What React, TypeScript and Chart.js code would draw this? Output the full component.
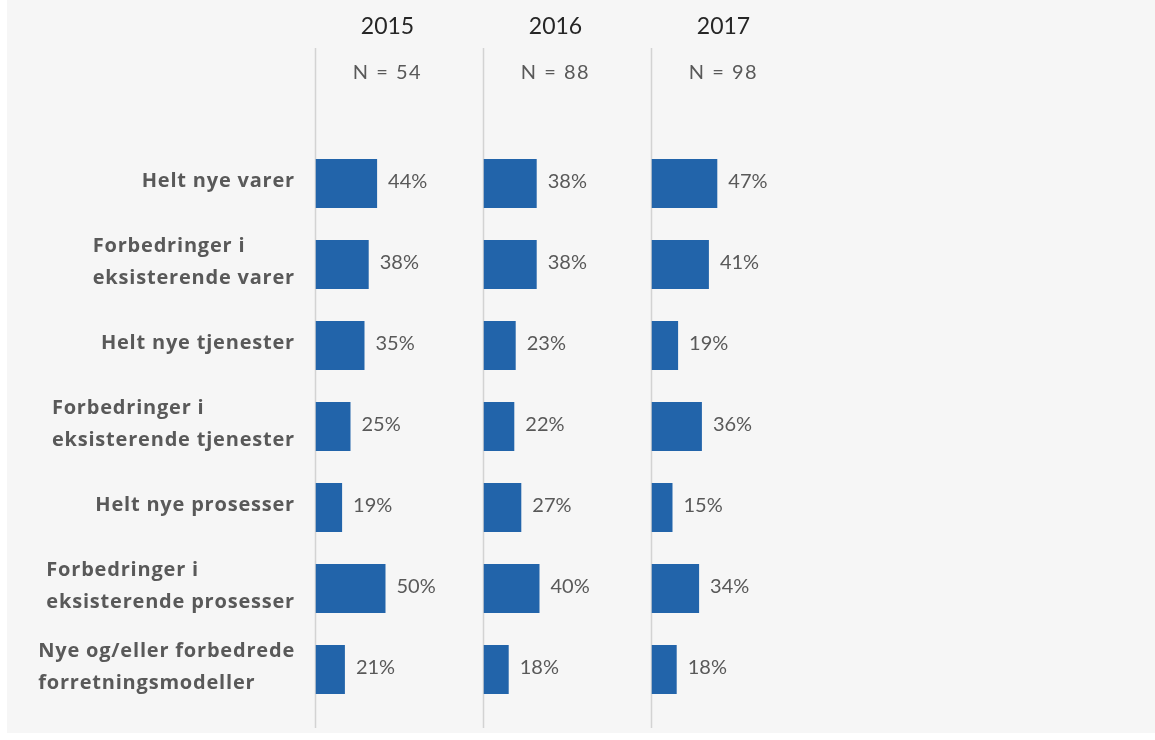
import React, { useEffect, useRef } from "react";
import { Chart, registerables } from "chart.js";

Chart.register(...registerables);

const categories: string[][] = [
  ["Helt nye varer"],
  ["Forbedringer i", "eksisterende varer"],
  ["Helt nye tjenester"],
  ["Forbedringer i", "eksisterende tjenester"],
  ["Helt nye prosesser"],
  ["Forbedringer i", "eksisterende prosesser"],
  ["Nye og/eller forbedrede", "forretningsmodeller"],
];
const years = ["2015", "2016", "2017"];
const sampleSizes = ["N = 54", "N = 88", "N = 98"];
const values2015 = [0.44, 0.38, 0.35, 0.25, 0.19, 0.5, 0.21];
const values2016 = [0.38, 0.38, 0.23, 0.22, 0.27, 0.4, 0.18];
const values2017 = [0.47, 0.41, 0.19, 0.36, 0.15, 0.34, 0.18];
const seriesValues = [values2015, values2016, values2017];

const W = 1155;
const H = 740;
const BAR_COLOR = "#2264aa";
const TEXT_GRAY = "#595959";
const FONT = "Lato, 'Open Sans', sans-serif";
const LABEL_FONT = "'Open Sans', Lato, sans-serif";
const xIds = ["x2015", "x2016", "x2017"];

const overlayPlugin = {
  id: "overlay",
  beforeDatasetsDraw(chart: any) {
    const ctx = chart.ctx;
    ctx.save();
    ctx.strokeStyle = "#d3d3d3";
    ctx.lineWidth = 1.5;
    xIds.forEach((id) => {
      const s = chart.scales[id];
      const x = s.getPixelForValue(0);
      ctx.beginPath();
      ctx.moveTo(x, 48);
      ctx.lineTo(x, 728);
      ctx.stroke();
    });
    ctx.restore();
  },
  afterDatasetsDraw(chart: any) {
    const ctx = chart.ctx;
    const yScale = chart.scales.y;
    ctx.save();
    // headers
    xIds.forEach((id, i) => {
      const s = chart.scales[id];
      const cx = s.left + 72;
      ctx.textAlign = "center";
      ctx.textBaseline = "alphabetic";
      ctx.fillStyle = "#262626";
      ctx.font = `23px ${FONT}`;
      ctx.fillText(years[i], cx, 34);
      ctx.fillStyle = TEXT_GRAY;
      ctx.font = `20px ${FONT}`;
      (ctx as any).letterSpacing = "1.5px";
      ctx.fillText(sampleSizes[i], cx, 79);
      (ctx as any).letterSpacing = "0px";
    });
    // category labels
    ctx.font = `bold 20px ${LABEL_FONT}`;
    (ctx as any).letterSpacing = "0.8px";
    ctx.fillStyle = TEXT_GRAY;
    ctx.textAlign = "left";
    categories.forEach((lines, idx) => {
      const cy = yScale.getPixelForValue(idx);
      const maxW = Math.max(...lines.map((l) => ctx.measureText(l).width));
      const left = 295 - maxW;
      lines.forEach((l, li) => {
        const by = cy + 3.5 + (li - (lines.length - 1) / 2) * 32;
        ctx.fillText(l, left, by);
      });
    });
    (ctx as any).letterSpacing = "0px";
    // value labels
    ctx.font = `20px ${FONT}`;
    chart.data.datasets.forEach((ds: any, di: number) => {
      const meta = chart.getDatasetMeta(di);
      meta.data.forEach((bar: any, j: number) => {
        const v = ds.data[j];
        const txt = Math.round(v * 100) + "%";
        ctx.fillText(txt, bar.x + 11, bar.y + 4);
      });
    });
    ctx.restore();
  },
};

export default function App() {
  const ref = useRef<HTMLCanvasElement | null>(null);

  useEffect(() => {
    if (!ref.current) return;
    const scales: any = {
      y: {
        type: "category",
        display: false,
        offset: true,
        grid: { display: false },
      },
    };
    xIds.forEach((id) => {
      scales[id] = {
        type: "linear",
        position: "bottom",
        stack: "years",
        stackWeight: 1,
        min: 0,
        max: 1.2,
        display: false,
        grid: { display: false },
      };
    });
    const chart = new Chart(ref.current, {
      type: "bar",
      data: {
        labels: categories as any,
        datasets: seriesValues.map((vals, i) => ({
          label: years[i],
          data: vals,
          xAxisID: xIds[i],
          yAxisID: "y",
          backgroundColor: BAR_COLOR,
          borderWidth: 0,
          grouped: false,
          barPercentage: 0.605,
          categoryPercentage: 1,
        })),
      },
      options: {
        indexAxis: "y",
        responsive: false,
        animation: false,
        layout: {
          padding: { left: 315.5, right: W - 315.5 - 504, top: 143, bottom: H - 710 },
        },
        plugins: {
          legend: { display: false },
          tooltip: { enabled: false },
          title: { display: false },
        },
        scales,
      },
      plugins: [overlayPlugin],
    } as any);
    return () => chart.destroy();
  }, []);

  return (
    <div style={{ position: "fixed", left: 0, top: 0, width: W, height: H, background: "#ffffff" }}>
      <div style={{ position: "absolute", left: 7, top: 0, width: W - 7, height: H - 7, background: "#f6f6f6" }} />
      <canvas ref={ref} width={W} height={H} style={{ position: "absolute", left: 0, top: 0, width: W, height: H }} />
    </div>
  );
}
